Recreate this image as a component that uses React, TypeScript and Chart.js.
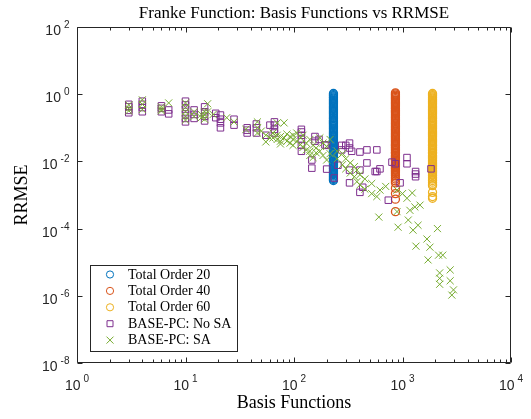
import React, { useEffect, useRef } from 'react';
import { Chart, registerables } from 'chart.js';

Chart.register(...registerables);

const TITLE = 'Franke Function: Basis Functions vs RRMSE';
const X_LABEL = 'Basis Functions';
const Y_LABEL = 'RRMSE';
const LEGEND_LABELS = ['Total Order 20', 'Total Order 40', 'Total Order 60', 'BASE-PC: No SA', 'BASE-PC: SA'];

const X_TICK_EXPONENTS = [0, 1, 2, 3, 4];
const Y_TICK_EXPONENTS = [2, 0, -2, -4, -6, -8];

const TO20_X = 231;
const TO20_Y = [1.05, 0.97, 0.9, 0.83, 0.77, 0.71, 0.66, 0.61, 0.56, 0.52, 0.48, 0.44, 0.41, 0.38, 0.35, 0.32, 0.3, 0.28, 0.26, 0.24, 0.22, 0.2, 0.19, 0.17, 0.16, 0.15, 0.14, 0.13, 0.12, 0.11, 0.1, 0.093, 0.086, 0.079, 0.073, 0.068, 0.063, 0.058, 0.054, 0.05, 0.046, 0.042, 0.039, 0.036, 0.033, 0.031, 0.029, 0.027, 0.025, 0.023, 0.021, 0.019, 0.018, 0.017, 0.015, 0.014, 0.013, 0.012, 0.011, 0.0102, 0.0094, 0.0087, 0.008, 0.0074, 0.0069, 0.0064, 0.0059, 0.0054, 0.005, 0.0046, 0.0043, 0.004, 0.0037, 0.0034, 0.0031, 0.0029, 0.0027];

const TO40_X = 861;
const TO40_Y = [1.1, 1.02, 0.94, 0.87, 0.8, 0.74, 0.68, 0.63, 0.58, 0.54, 0.5, 0.46, 0.42, 0.39, 0.36, 0.33, 0.31, 0.29, 0.27, 0.25, 0.23, 0.21, 0.195, 0.18, 0.165, 0.152, 0.14, 0.13, 0.12, 0.11, 0.102, 0.094, 0.087, 0.08, 0.074, 0.068, 0.063, 0.058, 0.054, 0.05, 0.046, 0.042, 0.039, 0.036, 0.033, 0.031, 0.029, 0.027, 0.025, 0.023, 0.021, 0.019, 0.018, 0.017, 0.015, 0.014, 0.013, 0.012, 0.011, 0.0102, 0.0094, 0.0087, 0.008, 0.0074, 0.0069, 0.0064, 0.0059, 0.0054, 0.005, 0.0046, 0.0042, 0.0038, 0.0034, 0.003, 0.0026, 0.0023, 0.0016, 0.0011, 0.00075, 0.00032];

const TO60_X = 1891;
const TO60_Y = [1.05, 0.97, 0.9, 0.83, 0.77, 0.71, 0.66, 0.61, 0.56, 0.52, 0.48, 0.44, 0.41, 0.38, 0.35, 0.32, 0.3, 0.28, 0.26, 0.24, 0.22, 0.2, 0.19, 0.17, 0.16, 0.15, 0.14, 0.13, 0.12, 0.11, 0.1, 0.093, 0.086, 0.079, 0.073, 0.068, 0.063, 0.058, 0.054, 0.05, 0.046, 0.042, 0.039, 0.036, 0.033, 0.031, 0.029, 0.027, 0.025, 0.023, 0.021, 0.019, 0.018, 0.017, 0.015, 0.014, 0.013, 0.012, 0.011, 0.0102, 0.0094, 0.0087, 0.008, 0.0074, 0.0069, 0.0064, 0.0059, 0.0054, 0.005, 0.0046, 0.0042, 0.0038, 0.0034, 0.003, 0.0027, 0.0024, 0.0021, 0.0019, 0.0012, 0.0009, 0.0008];

const NOSA_X = [3, 3, 3, 3, 4, 4, 4, 4, 6, 6, 6, 7, 7, 10, 10, 10, 10, 10, 10, 12, 12, 12, 15, 15, 15, 15, 19, 19, 21, 21, 21, 21, 28, 28, 37, 37, 37, 45, 45, 45, 55, 60, 66, 66, 66, 66, 117, 117, 117, 117, 117, 117, 146, 146, 156, 156, 170, 193, 200, 200, 235, 254, 275, 275, 300, 325, 325, 325, 325, 340, 405, 405, 405, 430, 470, 470, 560, 580, 580, 620, 740, 800, 860, 950, 1100, 1100, 1320, 1320, 1320, 1830];
const NOSA_Y = [0.5, 0.42, 0.33, 0.28, 0.62, 0.5, 0.4, 0.3, 0.45, 0.38, 0.3, 0.34, 0.26, 0.62, 0.48, 0.36, 0.26, 0.19, 0.15, 0.34, 0.25, 0.19, 0.42, 0.3, 0.22, 0.16, 0.27, 0.2, 0.24, 0.18, 0.14, 0.1, 0.18, 0.12, 0.1, 0.085, 0.07, 0.13, 0.1, 0.07, 0.06, 0.12, 0.15, 0.12, 0.09, 0.07, 0.09, 0.075, 0.06, 0.045, 0.03, 0.02, 0.011, 0.0063, 0.055, 0.04, 0.045, 0.031, 0.03, 0.0059, 0.0032, 0.0077, 0.03, 0.022, 0.03, 0.035, 0.025, 0.0055, 0.0023, 0.02, 0.019, 0.0055, 0.0012, 0.0017, 0.022, 0.009, 0.005, 0.022, 0.005, 0.006, 0.0007, 0.0095, 0.0085, 0.0023, 0.013, 0.0085, 0.005, 0.0042, 0.0035, 0.006];

const SA_X = [3, 3, 3, 4, 4, 4, 6, 6, 6, 7, 10, 10, 10, 10, 10, 12, 12, 14, 14, 15, 15, 15, 16, 16, 18, 24, 28, 36, 46, 46, 46, 50, 55, 55, 60, 64, 64, 70, 70, 70, 75, 75, 75, 81, 81, 86, 86, 92, 92, 98, 98, 98, 106, 106, 115, 115, 121, 121, 130, 130, 140, 140, 140, 150, 150, 160, 160, 173, 173, 185, 185, 200, 200, 215, 215, 250, 250, 280, 280, 300, 300, 330, 330, 360, 360, 380, 380, 405, 405, 450, 450, 520, 520, 580, 605, 620, 700, 890, 890, 910, 1000, 1100, 1130, 1170, 1230, 1250, 1300, 1330, 1390, 1450, 1680, 1720, 1790, 2100, 2150, 2200, 2200, 2200, 2350, 2750, 2750, 2850, 2950];
const SA_Y = [0.48, 0.38, 0.32, 0.68, 0.5, 0.35, 0.42, 0.36, 0.32, 0.55, 0.55, 0.4, 0.3, 0.22, 0.17, 0.3, 0.22, 0.25, 0.2, 0.3, 0.24, 0.18, 0.52, 0.3, 0.25, 0.2, 0.15, 0.09, 0.15, 0.1, 0.07, 0.08, 0.038, 0.06, 0.05, 0.07, 0.05, 0.14, 0.06, 0.045, 0.055, 0.04, 0.033, 0.14, 0.05, 0.065, 0.04, 0.055, 0.035, 0.06, 0.045, 0.03, 0.07, 0.04, 0.05, 0.032, 0.06, 0.026, 0.035, 0.022, 0.045, 0.02, 0.015, 0.03, 0.013, 0.025, 0.018, 0.05, 0.02, 0.035, 0.015, 0.028, 0.011, 0.045, 0.017, 0.02, 0.012, 0.017, 0.008, 0.012, 0.006, 0.009, 0.0045, 0.007, 0.0035, 0.0055, 0.0025, 0.004, 0.002, 0.003, 0.0015, 0.0022, 0.0011, 0.0009, 0.00022, 0.0014, 0.0018, 0.00032, 0.0014, 0.00011, 0.0011, 0.0008, 0.00018, 0.00035, 0.00115, 0.00009, 0.00044, 0.00003, 0.000126, 0.0005, 0.000049, 0.0000117, 0.000028, 0.0001, 0.0000162, 0.0000048, 0.0000033, 0.0000022, 0.0000162, 0.0000059, 0.0000028, 0.00000105, 0.0000015];

const COLORS = ['#0072BD', '#D95319', '#EDB120', '#7E2F8E', '#77AC30'];
const AXIS_COLOR = '#262626';
const SERIF = '"Liberation Serif", "Times New Roman", serif';
const SANS = '"Liberation Sans", Arial, sans-serif';

const col = (x: number, ys: number[]) => ys.map((y) => ({ x, y }));
const pairs = (xs: number[], ys: number[]) => xs.map((x, i) => ({ x, y: ys[i] }));

const axesPlugin = {
  id: 'matlabAxes',
  afterDatasetsDraw(chart: any) {
    const { ctx, chartArea: a, scales } = chart;
    const xs = scales.x;
    const ys = scales.y;
    ctx.save();
    ctx.strokeStyle = AXIS_COLOR;
    ctx.lineWidth = 1;
    const L = Math.round(a.left) + 0.5;
    const R = Math.round(a.right) - 0.5;
    const T = Math.round(a.top) + 0.5;
    const B = Math.round(a.bottom) - 0.5;
    ctx.beginPath();
    ctx.rect(L, T, R - L, B - T);
    X_TICK_EXPONENTS.forEach((e, i) => {
      const px = Math.round(xs.getPixelForValue(Math.pow(10, e))) + 0.5;
      ctx.moveTo(px, B); ctx.lineTo(px, B - 5);
      ctx.moveTo(px, T); ctx.lineTo(px, T + 5);
      if (i < X_TICK_EXPONENTS.length - 1) {
        for (let m = 2; m <= 9; m++) {
          const mx = Math.round(xs.getPixelForValue(m * Math.pow(10, e))) + 0.5;
          ctx.moveTo(mx, B); ctx.lineTo(mx, B - 3);
          ctx.moveTo(mx, T); ctx.lineTo(mx, T + 3);
        }
      }
    });
    Y_TICK_EXPONENTS.forEach((e) => {
      const py = Math.round(ys.getPixelForValue(Math.pow(10, e))) + 0.5;
      ctx.moveTo(L, py); ctx.lineTo(L + 5, py);
      ctx.moveTo(R, py); ctx.lineTo(R - 5, py);
    });
    ctx.stroke();

    const baseFont = `14px ${SANS}`;
    const supFont = `10px ${SANS}`;
    ctx.fillStyle = AXIS_COLOR;
    ctx.textBaseline = 'alphabetic';
    ctx.textAlign = 'left';
    const gap = 3;
    X_TICK_EXPONENTS.forEach((e) => {
      const px = xs.getPixelForValue(Math.pow(10, e));
      const exp = String(e);
      ctx.font = baseFont;
      const wb = ctx.measureText('10').width;
      ctx.font = supFont;
      const we = ctx.measureText(exp).width;
      const start = px - (wb + gap + we) / 2;
      ctx.font = baseFont;
      ctx.fillText('10', start, a.bottom + 27);
      ctx.font = supFont;
      ctx.fillText(exp, start + wb + gap, a.bottom + 19);
    });
    Y_TICK_EXPONENTS.forEach((e) => {
      const py = ys.getPixelForValue(Math.pow(10, e));
      const exp = String(e);
      ctx.font = supFont;
      const we = ctx.measureText(exp).width;
      ctx.font = baseFont;
      const wb = ctx.measureText('10').width;
      const right = a.left - 7.5;
      ctx.font = supFont;
      ctx.fillText(exp, right - we, py + 1);
      ctx.font = baseFont;
      ctx.fillText('10', right - we - gap - wb, py + 8);
    });
    ctx.restore();
  },
};

const legendPlugin = {
  id: 'matlabLegend',
  afterDraw(chart: any) {
    const { ctx, chartArea: a } = chart;
    const left = Math.round(a.left) + 13;
    const top = Math.round(a.bottom) - 98;
    const w = 147;
    const h = 86;
    ctx.save();
    ctx.fillStyle = '#ffffff';
    ctx.fillRect(left, top, w, h);
    ctx.strokeStyle = AXIS_COLOR;
    ctx.lineWidth = 1;
    ctx.strokeRect(left + 0.5, top + 0.5, w, h);
    LEGEND_LABELS.forEach((label, i) => {
      const cy = top + 9.5 + i * 16.4;
      const cx = left + 20;
      const ds = chart.data.datasets[i];
      ctx.strokeStyle = ds.borderColor;
      ctx.lineWidth = 1;
      ctx.beginPath();
      if (ds.pointStyle === 'circle') {
        ctx.arc(cx, cy, 3.6, 0, Math.PI * 2);
      } else if (ds.pointStyle === 'rect') {
        ctx.rect(cx - 3, cy - 3, 6, 6);
      } else {
        ctx.moveTo(cx - 3.5, cy - 3.5); ctx.lineTo(cx + 3.5, cy + 3.5);
        ctx.moveTo(cx + 3.5, cy - 3.5); ctx.lineTo(cx - 3.5, cy + 3.5);
      }
      ctx.stroke();
      ctx.fillStyle = '#000000';
      ctx.font = `14px ${SERIF}`;
      ctx.textBaseline = 'middle';
      ctx.textAlign = 'left';
      ctx.fillText(label, left + 38, cy + 0.5);
    });
    ctx.restore();
  },
};

export default function App() {
  const ref = useRef<HTMLCanvasElement>(null);
  useEffect(() => {
    document.body.style.margin = '0';
    const canvas = ref.current;
    if (!canvas) return;
    const mk = (i: number, data: any[], pointStyle: string, radius: number, width: number, order: number) => ({
      label: LEGEND_LABELS[i],
      data,
      pointStyle,
      pointRadius: radius,
      borderColor: COLORS[i],
      backgroundColor: 'rgba(0,0,0,0)',
      borderWidth: width,
      showLine: false,
      order,
    });
    const chart = new Chart(canvas, {
      type: 'scatter',
      data: {
        datasets: [
          mk(0, col(TO20_X, TO20_Y), 'circle', 4, 1.3, 5),
          mk(1, col(TO40_X, TO40_Y), 'circle', 4, 1.3, 4),
          mk(2, col(TO60_X, TO60_Y), 'circle', 4, 1.3, 3),
          mk(3, pairs(NOSA_X, NOSA_Y), 'rect', 4.6, 1, 2),
          mk(4, pairs(SA_X, SA_Y), 'crossRot', 5, 1, 1),
        ] as any,
      },
      options: {
        responsive: false,
        maintainAspectRatio: false,
        animation: false,
        events: [],
        layout: { padding: { left: 0, right: 20, top: 0, bottom: 0 } },
        plugins: {
          legend: { display: false },
          tooltip: { enabled: false },
          title: {
            display: true,
            text: TITLE,
            fullSize: false,
            color: '#000000',
            font: { family: SERIF, size: 17, weight: 'normal' },
            padding: { top: 3, bottom: 3.6 },
          },
        },
        scales: {
          x: {
            type: 'logarithmic',
            position: 'bottom',
            min: 1,
            max: 10000,
            grid: { display: false },
            border: { display: false },
            ticks: { display: false },
            title: {
              display: true,
              text: X_LABEL,
              color: '#000000',
              font: { family: SERIF, size: 18, weight: 'normal' },
              padding: { top: 0, bottom: 5 },
            },
            afterFit: (s: any) => { s.height = 56; },
          },
          y: {
            type: 'logarithmic',
            position: 'left',
            min: 1e-8,
            max: 100,
            grid: { display: false },
            border: { display: false },
            ticks: { display: false },
            title: {
              display: true,
              text: Y_LABEL,
              color: '#000000',
              font: { family: SERIF, size: 18, weight: 'normal' },
              padding: { top: 11, bottom: 0 },
            },
            afterFit: (s: any) => { s.width = 77; },
          },
        },
      } as any,
      plugins: [axesPlugin, legendPlugin],
    });
    return () => chart.destroy();
  }, []);
  return (
    <div style={{ width: 531, height: 419 }}>
      <canvas ref={ref} width={531} height={419} style={{ display: 'block' }} />
    </div>
  );
}
